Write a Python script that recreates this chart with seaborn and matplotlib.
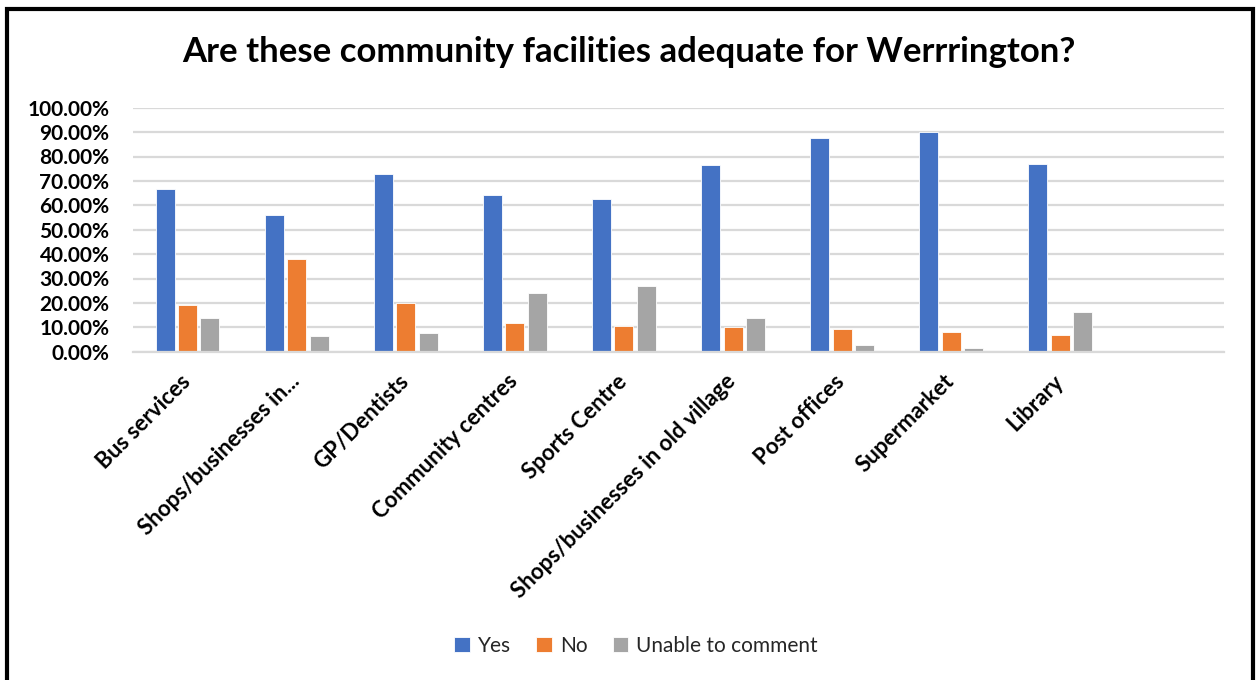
import matplotlib
matplotlib.use("Agg")
import matplotlib.pyplot as plt
import matplotlib.patches as mpatches
import matplotlib.transforms as mtransforms
from matplotlib.ticker import PercentFormatter
import seaborn as sns
import pandas as pd

categories = ["Bus services", "Shops/businesses in...", "GP/Dentists", "Community centres",
              "Sports Centre", "Shops/businesses in old village", "Post offices",
              "Supermarket", "Library"]
series_names = ["Yes", "No", "Unable to comment"]
yes_vals = [66.7, 55.9, 73.0, 64.2, 62.6, 76.4, 87.5, 90.2, 76.8]
no_vals = [19.0, 37.9, 19.8, 11.8, 10.4, 10.0, 9.3, 8.1, 6.7]
unable_vals = [13.8, 6.4, 7.5, 23.9, 26.8, 13.7, 2.9, 1.5, 16.3]
y_ticks = [0, 10, 20, 30, 40, 50, 60, 70, 80, 90, 100]
title = "Are these community facilities adequate for Werrrington?"
colors = ["#4472C4", "#ED7D31", "#A5A5A5"]

rows = []
for name, vals in zip(series_names, [yes_vals, no_vals, unable_vals]):
    for c, v in zip(categories, vals):
        rows.append({"Facility": c, "Response": name, "Percent": v})
df = pd.DataFrame(rows)

sns.set_theme(style="white")
plt.rcParams["font.family"] = ["Lato", "DejaVu Sans"]

W, H = 1256, 680
fig = plt.figure(figsize=(W / 100, H / 100), dpi=100)
ax = fig.add_axes([133 / W, 1 - 351.7 / H, (1224 - 133) / W, (351.7 - 107.7) / H])

sns.barplot(data=df, x="Facility", y="Percent", hue="Response", order=categories,
            hue_order=series_names, palette=colors, width=0.615, gap=0.15,
            edgecolor="white", linewidth=0.6, saturation=1, ax=ax, legend=True)

ax.set_xlim(-0.5, 9.5)
ax.set_ylim(0, 100)
ax.set_yticks(y_ticks)
ax.yaxis.set_major_formatter(PercentFormatter(xmax=100, decimals=2))
ax.grid(axis="y", color="#D9D9D9", linewidth=1.6)
ax.set_axisbelow(True)
for s in ["top", "right", "left"]:
    ax.spines[s].set_visible(False)
ax.spines["bottom"].set_color("#D9D9D9")
ax.spines["bottom"].set_linewidth(1.6)
ax.tick_params(axis="both", length=0)
ax.tick_params(axis="y", pad=17)
ax.set_xlabel("")
ax.set_ylabel("")

for lab in ax.get_yticklabels():
    lab.set_fontsize(15)
    lab.set_fontweight("bold")
    lab.set_color("black")

ax.tick_params(axis="x", pad=0)
ax.set_xticks(range(len(categories)))
ax.set_xticklabels(categories, rotation=45, ha="right", va="top",
                   rotation_mode="anchor", fontsize=16, fontweight="bold", color="black")
for lab in ax.get_xticklabels():
    lab.set_transform(lab.get_transform() +
                      mtransforms.ScaledTranslation(-8 / 100, -19 / 100, fig.dpi_scale_trans))

handles, labels = ax.get_legend_handles_labels()
ax.get_legend().remove()
fig.legend(handles, labels, loc="center", bbox_to_anchor=(636 / W, 1 - 646 / H), ncol=3,
           frameon=False, fontsize=15, handlelength=0.75, handleheight=0.75,
           handletextpad=0.4, columnspacing=1.2)

fig.text(629 / W, 1 - 52 / H, title, ha="center", va="center", fontsize=25,
         fontweight="bold", color="black")

border = mpatches.Rectangle((7 / W, -0.05), (1253 - 7) / W, 1.05 - 9 / H,
                            transform=fig.transFigure, fill=False, edgecolor="black",
                            linewidth=3, clip_on=False)
fig.patches.append(border)

fig.savefig("out.png", dpi=100, facecolor="white")
